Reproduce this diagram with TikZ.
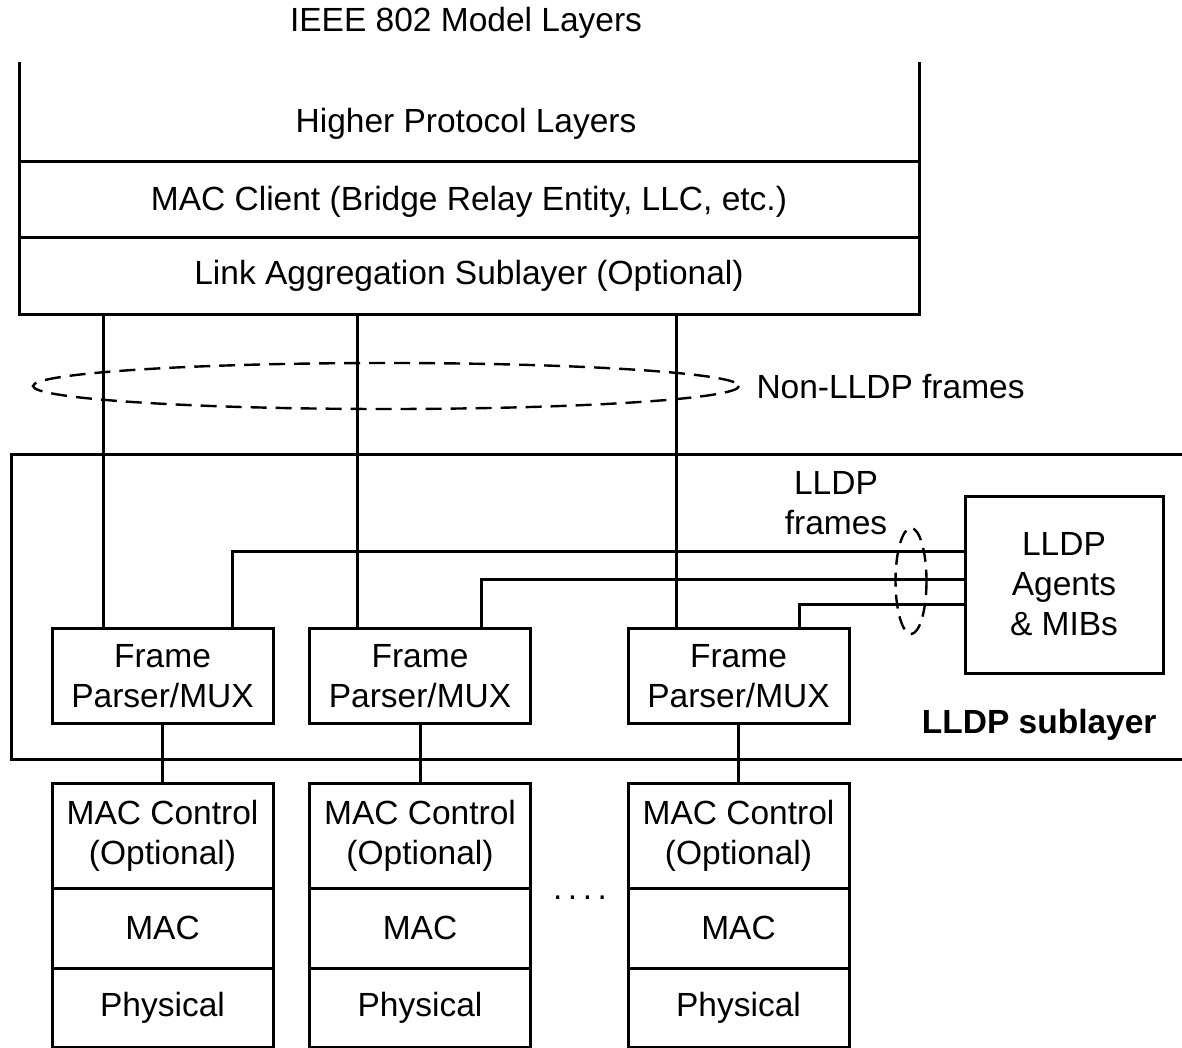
\documentclass[tikz,border=0pt]{standalone}
\usepackage{fontspec}
\setmainfont{Liberation Sans}
\begin{document}
\begin{tikzpicture}[x=1pt,y=-1pt,line width=3pt,
  lbl/.style={font=\fontsize{33.5}{40}\selectfont, inner sep=0pt, align=center},
  box/.style={draw, line width=3pt, inner sep=0pt, align=center, font=\fontsize{33.5}{40}\selectfont},
  dsh/.style={dash pattern=on 16pt off 9pt, line width=2.4pt}]
\useasboundingbox (0,0) rectangle (1182,1048);

% title
\node[lbl, anchor=base] (title) at (466,32) {IEEE 802 Model Layers};

% upper layers frame
\draw (19,62) -- (19,314) -- (919,314) -- (919,62);
\draw (19,162) -- (919,162);
\draw (19,238) -- (919,238);
\node[lbl, anchor=base] (hpl) at (466,133) {Higher Protocol Layers};
\node[lbl, anchor=base] (mcl) at (469,211) {MAC Client (Bridge Relay Entity, LLC, etc.)};
\node[lbl, anchor=base] (las) at (469,285) {Link Aggregation Sublayer (Optional)};

% LLDP sublayer region
\draw (1190,454) -- (11,454) -- (11,759) -- (1190,759);
\node[lbl, anchor=base east, font=\fontsize{33.5}{40}\selectfont\bfseries] (sub) at (1158,733) {LLDP sublayer};

% frame parser boxes
\node[box, minimum width=221, minimum height=95] (fp1) at (162.5,676) {Frame\\Parser/MUX};
\node[box, minimum width=221, minimum height=95] (fp2) at (420,676) {Frame\\Parser/MUX};
\node[box, minimum width=221, minimum height=95] (fp3) at (738.5,676) {Frame\\Parser/MUX};

% LLDP agents
\node[box, minimum width=198, minimum height=177] (ag) at (1064,584.5) {LLDP\\Agents\\\& MIBs};

% lower stacks
\foreach \i/\x in {1/162.5,2/420,3/738.5}{
  \node[box, minimum width=221, minimum height=105] (mc\i) at (\x,835.5) {MAC Control\\(Optional)};
  \node[box, minimum width=221, minimum height=80] (mac\i) at (\x,928) {MAC};
  \node[box, minimum width=221, minimum height=79] (ph\i) at (\x,1007.5) {Physical};
  \draw (fp\i.south) -- (mc\i.north);
}
\node[lbl, anchor=base] (dots) at (580,899) {.\kern5.5pt.\kern5.5pt.\kern5.5pt.};

% non-LLDP frame paths
\coordinate (d1) at (103,314);
\coordinate (d2) at (357,314);
\coordinate (d3) at (676,314);
\draw (d1) -- (d1 |- fp1.north);
\draw (d2) -- (d2 |- fp2.north);
\draw (d3) -- (d3 |- fp3.north);

% LLDP frame paths
\coordinate (l1) at (232,551);
\coordinate (l2) at (481,579);
\coordinate (l3) at (799,604);
\draw (l1 |- fp1.north) -- (l1) -- (l1 -| ag.west);
\draw (l2 |- fp2.north) -- (l2) -- (l2 -| ag.west);
\draw (l3 |- fp3.north) -- (l3) -- (l3 -| ag.west);

% ellipses and labels
\draw[dsh] (386,386) ellipse [x radius=353, y radius=23];
\node[lbl, anchor=base west] (nonl) at (755,398) {Non-LLDP frames};
\draw[dsh, dash pattern=on 14pt off 8pt] (911,581) ellipse [x radius=15.5, y radius=53];
\node[lbl] (lf) at (836,503) {LLDP\\frames};
\end{tikzpicture}
\end{document}
